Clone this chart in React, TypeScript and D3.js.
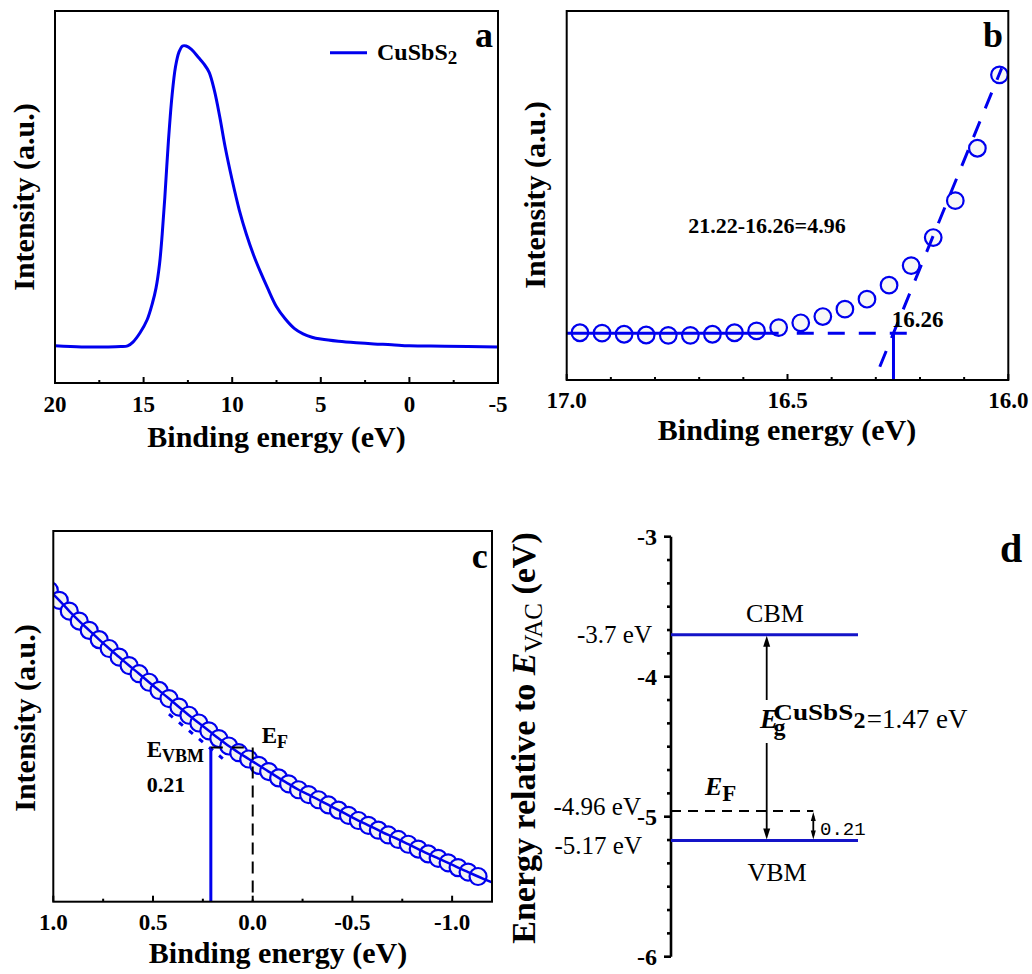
import React from "react";
import * as d3 from "d3";

const FONT = "'Times New Roman', 'Liberation Serif', Times, serif";
const BLUE = "#0000ee";
const DBLUE = "#1414c8";

// (a) UPS spectrum of CuSbS2
const upsEnergy = [20, 18.5, 17, 16.3, 15.9, 15.6, 15.2, 14.8, 14.5, 14.3, 14.1, 13.95, 13.8, 13.6, 13.4, 13.2, 13.0, 12.8, 12.6, 12.3, 11.9, 11.6, 11.3, 11.0, 10.7, 10.4, 10.0, 9.6, 9.2, 8.8, 8.4, 8.0, 7.5, 7.0, 6.5, 6.0, 5.5, 5.0, 4.0, 3.0, 2.0, 1.0, 0, -2, -5];
const upsIntensity = [10.0, 9.7, 9.7, 9.8, 10.0, 11.0, 13.5, 17.0, 21.5, 25.5, 32, 40, 50, 65, 77, 85, 89, 90.6, 90.6, 89.7, 87.5, 85.8, 83.5, 78.5, 71.5, 63.5, 54.5, 46.5, 40, 34.5, 29.8, 25.5, 20.5, 17.2, 14.7, 13.2, 12.3, 11.8, 11.2, 10.8, 10.5, 10.3, 10.0, 9.9, 9.7];
const aMajorTicks = [20, 15, 10, 5, 0, -5];
const aMinorTicks = [17.5, 12.5, 7.5, 2.5, -2.5];

// (b) secondary-electron cutoff region
const cutoffEnergy = [16.97, 16.92, 16.87, 16.82, 16.77, 16.72, 16.67, 16.62, 16.57, 16.52, 16.47, 16.42, 16.37, 16.32, 16.27, 16.22, 16.17, 16.12, 16.07, 16.02];
const cutoffIntensity = [12.8, 12.7, 12.4, 12.2, 12.1, 12.1, 12.4, 12.8, 13.3, 14.2, 15.5, 17.2, 19.2, 21.9, 25.7, 31.0, 38.6, 48.6, 62.8, 82.7];
const cutoffEdge = 16.26;
const cutoffLevel = 12.65;
const onsetFit: [number, number][] = [[16.291, 3.6], [16.015, 84.5]];
const bMajorTicks = [17.0, 16.5, 16.0];
const bMinorTicks = [16.9, 16.8, 16.7, 16.6, 16.4, 16.3, 16.2, 16.1];

// (c) valence-band edge near the Fermi level
const vbEnergy = [1.02, 0.97, 0.92, 0.87, 0.82, 0.77, 0.72, 0.67, 0.62, 0.57, 0.52, 0.47, 0.42, 0.37, 0.32, 0.27, 0.22, 0.17, 0.12, 0.07, 0.02, -0.03, -0.08, -0.13, -0.18, -0.23, -0.28, -0.33, -0.38, -0.43, -0.48, -0.53, -0.58, -0.63, -0.68, -0.73, -0.78, -0.83, -0.88, -0.93, -0.98, -1.03, -1.08, -1.13];
const vbIntensity = [84.0, 81.3, 78.4, 75.7, 73.2, 70.7, 68.3, 66.0, 63.7, 61.5, 59.2, 57.0, 54.8, 52.5, 50.3, 48.2, 46.1, 44.0, 42.0, 40.2, 38.5, 36.8, 35.1, 33.4, 31.8, 30.2, 28.9, 27.5, 26.1, 24.7, 23.3, 21.9, 20.6, 19.3, 18.0, 16.8, 15.5, 14.2, 12.9, 11.7, 10.5, 9.2, 8.0, 6.8];
const vbTail: [number, number] = [-1.2, 5.2];
const vbTangent: [number, number][] = [[0.42, 50.6], [0.15, 38.6]];
const vbmOffset = 0.21;
const vbmLevel = 41.6;
const cMajorTicks = [1.0, 0.5, 0.0, -0.5, -1.0];
const cMinorTicks = [0.75, 0.25, -0.25, -0.75];

// (d) energy-level diagram
const cbmEnergy = -3.7;
const fermiEnergy = -4.96;
const vbmEnergy = -5.17;
const bandGap = 1.47;
const dMajorTicks = [-3, -4, -5, -6];

// scales
const xa = d3.scaleLinear().domain([20, -5]).range([55, 498]);
const ya = d3.scaleLinear().domain([0, 100]).range([383, 11]);
const xb = d3.scaleLinear().domain([17, 16]).range([566.7, 1008.3]);
const yb = d3.scaleLinear().domain([0, 100]).range([380, 11]);
const xc = d3.scaleLinear().domain([1.0, -1.2]).range([53.3, 492]);
const yc = d3.scaleLinear().domain([0, 100]).range([901.7, 531]);
const yd = d3.scaleLinear().domain([-3, -6]).range([536.7, 956.7]);
const dAxisX = 671;
const dLevelX1 = 858;

const dMinorTicks = d3.range(0, 19).filter((i) => i % 6 !== 0).map((i) => -3 - i / 6);

function fmtInt(v: number) {
  return String(v);
}
function fmt1(v: number) {
  return (Math.abs(v) < 1e-9 ? 0 : v).toFixed(1);
}

function Frame({ x0, x1, y0, y1 }: { x0: number; x1: number; y0: number; y1: number }) {
  return <rect x={x0} y={y0} width={x1 - x0} height={y1 - y0} fill="none" stroke="#000" strokeWidth={2} />;
}

function BottomTicks({ scale, y, major, minor, fmt, labelY }: { scale: d3.ScaleLinear<number, number>; y: number; major: number[]; minor: number[]; fmt: (v: number) => string; labelY: number }) {
  return (
    <g>
      {major.map((t) => (
        <line key={"M" + t} x1={scale(t)} x2={scale(t)} y1={y} y2={y - 6} stroke="#000" strokeWidth={2} />
      ))}
      {minor.map((t) => (
        <line key={"m" + t} x1={scale(t)} x2={scale(t)} y1={y} y2={y - 3} stroke="#000" strokeWidth={2} />
      ))}
      {major.map((t) => (
        <text key={"L" + t} x={scale(t)} y={labelY} textAnchor="middle" fontSize={23} fontWeight="bold">
          {fmt(t)}
        </text>
      ))}
    </g>
  );
}

function Arrowhead({ x, y, dir, w = 7, h = 11 }: { x: number; y: number; dir: 1 | -1; w?: number; h?: number }) {
  // dir = -1 points up, 1 points down; (x, y) is the tip
  const p = `${x},${y} ${x - w / 2},${y - dir * h} ${x + w / 2},${y - dir * h}`;
  return <polygon points={p} fill="#000" />;
}

export default function App() {
  const lineA = d3
    .line<number>()
    .x((_, i) => xa(upsEnergy[i]))
    .y((d) => ya(d))
    .curve(d3.curveCatmullRom.alpha(0.5));

  const lineC = d3
    .line<[number, number]>()
    .x((d) => xc(d[0]))
    .y((d) => yc(d[1]))
    .curve(d3.curveCatmullRom.alpha(0.5));
  const cPoints: [number, number][] = vbEnergy.map((e, i) => [e, vbIntensity[i]] as [number, number]);
  cPoints.push(vbTail);

  const yCBM = yd(cbmEnergy);
  const yEF = yd(fermiEnergy);
  const yVBM = yd(vbmEnergy);
  const gapX = 766.7;
  const smallX = 813.3;

  return (
    <svg
      width={1032}
      height={974}
      viewBox="0 0 1032 974"
      style={{ position: "absolute", left: 0, top: 0, background: "#fff" }}
      fontFamily={FONT}
    >
      <defs>
        <clipPath id="clipB">
          <rect x={566.7} y={11} width={441.6} height={369} />
        </clipPath>
        <clipPath id="clipC">
          <rect x={53.3} y={531} width={438.7} height={370.7} />
        </clipPath>
      </defs>
      <rect x={0} y={0} width={1032} height={974} fill="#fff" />

      {/* ---------- (a) ---------- */}
      <g>
        <path d={lineA(upsIntensity) || ""} fill="none" stroke={BLUE} strokeWidth={3} />
        <Frame x0={55} x1={498} y0={11} y1={383} />
        <BottomTicks scale={xa} y={383} major={aMajorTicks} minor={aMinorTicks} fmt={fmtInt} labelY={411.5} />
        <text x={276.5} y={446.5} textAnchor="middle" fontSize={30} fontWeight="bold">
          Binding energy (eV)
        </text>
        <text transform="translate(33.5,197) rotate(-90)" textAnchor="middle" fontSize={30} fontWeight="bold">
          Intensity (a.u.)
        </text>
        <line x1={330} x2={367} y1={52.7} y2={52.7} stroke={BLUE} strokeWidth={3} />
        <text x={377} y={60} fontSize={24} fontWeight="bold">
          CuSbS
          <tspan dy={4} fontSize={19}>2</tspan>
        </text>
        <text x={475} y={46.7} fontSize={36} fontWeight="bold">
          a
        </text>
      </g>

      {/* ---------- (b) ---------- */}
      <g>
        <g clipPath="url(#clipB)">
          {cutoffEnergy.map((e, i) => (
            <circle key={i} cx={xb(e)} cy={yb(cutoffIntensity[i])} r={8.3} fill="#f7f7f7" stroke={BLUE} strokeWidth={2.2} />
          ))}
          <line x1={xb(17.0)} x2={xb(16.52)} y1={yb(cutoffLevel)} y2={yb(cutoffLevel)} stroke={BLUE} strokeWidth={3} />
          <line x1={xb(16.479)} x2={xb(16.219)} y1={yb(cutoffLevel)} y2={yb(cutoffLevel)} stroke={BLUE} strokeWidth={3} strokeDasharray="17,14" />
          <line x1={xb(onsetFit[0][0])} x2={xb(onsetFit[1][0])} y1={yb(onsetFit[0][1])} y2={yb(onsetFit[1][1])} stroke={BLUE} strokeWidth={3} strokeDasharray="17,14" />
          <line x1={xb(cutoffEdge)} x2={xb(cutoffEdge)} y1={yb(cutoffLevel)} y2={yb(0)} stroke={BLUE} strokeWidth={3} />
        </g>
        <Frame x0={566.7} x1={1008.3} y0={11} y1={380} />
        <BottomTicks scale={xb} y={380} major={bMajorTicks} minor={bMinorTicks} fmt={fmt1} labelY={408.3} />
        <text x={787} y={440} textAnchor="middle" fontSize={30} fontWeight="bold">
          Binding energy (eV)
        </text>
        <text transform="translate(545,195) rotate(-90)" textAnchor="middle" fontSize={30} fontWeight="bold">
          Intensity (a.u.)
        </text>
        <text x={688.3} y={233.3} fontSize={22} fontWeight="bold">
          {`21.22-${cutoffEdge.toFixed(2)}=${(21.22 - cutoffEdge).toFixed(2)}`}
        </text>
        <text x={891.7} y={326.7} fontSize={23} fontWeight="bold">
          {cutoffEdge.toFixed(2)}
        </text>
        <text x={983} y={46.7} fontSize={36} fontWeight="bold">
          b
        </text>
      </g>

      {/* ---------- (c) ---------- */}
      <g>
        <g clipPath="url(#clipC)">
          {cPoints.slice(0, vbEnergy.length).map((d, i) => (
            <circle key={i} cx={xc(d[0])} cy={yc(d[1])} r={8.5} fill="#f3f3f3" stroke={BLUE} strokeWidth={2.2} />
          ))}
          <path d={lineC(cPoints) || ""} fill="none" stroke={BLUE} strokeWidth={2.5} />
          <line x1={xc(vbTangent[0][0])} x2={xc(vbTangent[1][0])} y1={yc(vbTangent[0][1])} y2={yc(vbTangent[1][1])} stroke={BLUE} strokeWidth={3} strokeDasharray="5,8" />
          <line x1={xc(vbmOffset)} x2={xc(vbmOffset)} y1={yc(vbmLevel)} y2={yc(0)} stroke={BLUE} strokeWidth={3} />
          <line x1={xc(vbmOffset)} x2={xc(0)} y1={yc(vbmLevel)} y2={yc(vbmLevel)} stroke="#000" strokeWidth={2} strokeDasharray="12,9" />
          <line x1={xc(0)} x2={xc(0)} y1={yc(vbmLevel)} y2={yc(0)} stroke="#000" strokeWidth={2} strokeDasharray="12,7" />
        </g>
        <Frame x0={53.3} x1={492} y0={531} y1={901.7} />
        <BottomTicks scale={xc} y={901.7} major={cMajorTicks} minor={cMinorTicks} fmt={fmt1} labelY={930} />
        <text x={278} y={963.3} textAnchor="middle" fontSize={30} fontWeight="bold">
          Binding energy (eV)
        </text>
        <text transform="translate(35,718) rotate(-90)" textAnchor="middle" fontSize={30} fontWeight="bold">
          Intensity (a.u.)
        </text>
        <text x={146.7} y={756.7} fontSize={23} fontWeight="bold">
          E
          <tspan dy={5} fontSize={18}>VBM</tspan>
        </text>
        <text x={146.7} y={791.7} fontSize={22} fontWeight="bold">
          {vbmOffset.toFixed(2)}
        </text>
        <text x={261.7} y={743.3} fontSize={23} fontWeight="bold">
          E
          <tspan dy={5} fontSize={18}>F</tspan>
        </text>
        <text x={471.7} y={568.3} fontSize={36} fontWeight="bold">
          c
        </text>
      </g>

      {/* ---------- (d) ---------- */}
      <g>
        <line x1={dAxisX} x2={dAxisX} y1={yd(-3)} y2={yd(-6)} stroke="#000" strokeWidth={2.6} />
        {dMajorTicks.map((t) => (
          <g key={t}>
            <line x1={dAxisX - 7} x2={dAxisX} y1={yd(t)} y2={yd(t)} stroke="#000" strokeWidth={2.6} />
            <text x={657} y={yd(t)} dy="0.35em" textAnchor="end" fontSize={24} fontWeight="bold">
              {fmtInt(t)}
            </text>
          </g>
        ))}
        {dMinorTicks.map((t, i) => (
          <line key={i} x1={dAxisX - 4} x2={dAxisX} y1={yd(t)} y2={yd(t)} stroke="#000" strokeWidth={2.6} />
        ))}
        <text transform="translate(535,738) rotate(-90)" textAnchor="middle" fontSize={34} fontWeight="bold">
          Energy relative to{" "}
          <tspan fontStyle="italic">E</tspan>
          <tspan dy={7} fontSize={25} fontWeight="normal">VAC</tspan>
          <tspan dy={-7}> (eV)</tspan>
        </text>

        {/* band edges */}
        <line x1={dAxisX} x2={dLevelX1} y1={yCBM} y2={yCBM} stroke={DBLUE} strokeWidth={3} />
        <line x1={dAxisX} x2={dLevelX1} y1={yVBM} y2={yVBM} stroke={DBLUE} strokeWidth={3} />
        <line x1={dAxisX} x2={smallX} y1={yEF} y2={yEF} stroke="#000" strokeWidth={2} strokeDasharray="10,7" />

        {/* band-gap arrow */}
        <line x1={gapX} x2={gapX} y1={yCBM + 8} y2={700} stroke="#000" strokeWidth={1.8} />
        <line x1={gapX} x2={gapX} y1={743} y2={yVBM - 8} stroke="#000" strokeWidth={1.8} />
        <Arrowhead x={gapX} y={yCBM + 1} dir={-1} />
        <Arrowhead x={gapX} y={yVBM - 1} dir={1} />

        {/* Fermi-level offset arrow */}
        <line x1={smallX} x2={smallX} y1={yEF + 5} y2={yVBM - 5} stroke="#000" strokeWidth={1.8} />
        <Arrowhead x={smallX} y={yEF + 1} dir={-1} w={5} h={9} />
        <Arrowhead x={smallX} y={yVBM - 1} dir={1} w={5} h={9} />

        <text x={775} y={yCBM - 13} textAnchor="middle" fontSize={26}>
          CBM
        </text>
        <text x={777} y={yVBM + 40} textAnchor="middle" fontSize={26}>
          VBM
        </text>
        <text x={652} y={yCBM + 8.5} textAnchor="end" fontSize={25}>
          {`${cbmEnergy} eV`}
        </text>
        <text x={641} y={yEF + 4} textAnchor="end" fontSize={25}>
          {`${fermiEnergy} eV`}
        </text>
        <text x={642} y={yVBM + 13} textAnchor="end" fontSize={25}>
          {`${vbmEnergy} eV`}
        </text>
        <text x={705} y={yEF - 16} fontSize={26} fontWeight="bold">
          <tspan fontStyle="italic">E</tspan>
          <tspan dy={6} fontSize={23}>F</tspan>
        </text>
        <text x={820} y={yVBM - 6} fontSize={19} fontFamily="'Liberation Mono', 'DejaVu Sans Mono', monospace">
          {(fermiEnergy - vbmEnergy).toFixed(2)}
        </text>

        {/* band-gap label: E, subscript g, superscript material, value */}
        <text fontSize={24} fontWeight="bold">
          <tspan x={760} y={728.3} fontSize={27} fontStyle="italic">E</tspan>
          <tspan x={773.5} y={735}>g</tspan>
          <tspan x={773.3} y={720} textLength={80} lengthAdjust="spacingAndGlyphs">CuSbS</tspan>
          <tspan x={853.5} y={728.3}>2</tspan>
          <tspan x={866.7} y={728.3} fontSize={27} fontWeight="normal">{`=${bandGap} eV`}</tspan>
        </text>

        <text x={1000} y={561.7} fontSize={40} fontWeight="bold">
          d
        </text>
      </g>
    </svg>
  );
}
